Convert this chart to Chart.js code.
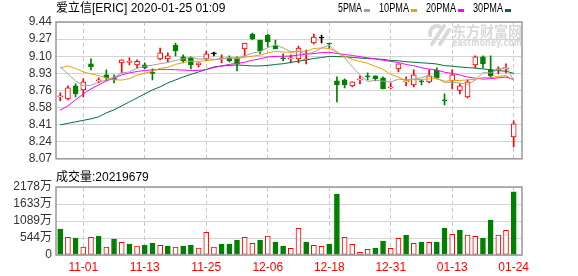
<!DOCTYPE html>
<html>
<head>
<meta charset="utf-8">
<script src="https://cdn.jsdelivr.net/npm/chart.js@4/dist/chart.umd.min.js"></script>
<style>
  body { margin: 0; background: #fff; }
  #wrap { position: relative; width: 578px; height: 276px; }
  #kline { position: absolute; left: 0; top: 0; }
  #vol { position: absolute; left: 0; top: 170px; }
</style>
</head>
<body>
<div id="wrap">
  <canvas id="kline" width="578" height="170"></canvas>
  <canvas id="vol" width="578" height="106"></canvas>
</div>
<script>
//--Data--//
const title = '爱立信[ERIC] 2020-01-25 01:09'
const dates = ['10-29','10-30','10-31','11-01','11-04','11-05','11-06','11-07','11-08','11-11',
  '11-12','11-13','11-14','11-15','11-18','11-19','11-20','11-21','11-22','11-25',
  '11-26','11-27','11-29','12-02','12-03','12-04','12-05','12-06','12-09','12-10',
  '12-11','12-12','12-13','12-16','12-17','12-18','12-19','12-20','12-23','12-24',
  '12-26','12-27','12-30','12-31','01-02','01-03','01-06','01-07','01-08','01-09',
  '01-10','01-13','01-14','01-15','01-16','01-17','01-21','01-22','01-23','01-24']
const labelIdx = [3, 11, 19, 27, 35, 43, 51, 59]

const open = [8.69, 8.67, 8.80, 8.76, 9.02, 8.85, 8.91, 8.88, 9.03, 9.035,
  9.01, 9.01, 8.93, 9.07, 9.07, 9.21, 9.09, 9.08, 9.01, 9.07,
  9.12, 9.07, 9.08, 9.08, 9.17, 9.32, 9.26, 9.31, 9.20, 9.08,
  9.07, 9.07, 9.06, 9.23, 9.28, 9.225, 8.85, 8.86, 8.80, 8.86,
  8.895, 8.90, 8.88, 8.78, 8.97, 8.84, 8.81, 8.845, 8.84, 8.955,
  8.655, 8.85, 8.755, 8.69, 9.01, 9.09, 8.96, 8.96, 8.97, 8.29]
const high = [8.73, 8.80, 8.82, 8.87, 9.07, 8.88, 8.96, 8.91, 9.06, 9.08,
  9.06, 9.03, 8.97, 9.18, 9.13, 9.23, 9.11, 9.09, 9.03, 9.15,
  9.14, 9.11, 9.10, 9.09, 9.23, 9.33, 9.26, 9.32, 9.26, 9.12,
  9.11, 9.20, 9.16, 9.32, 9.31, 9.23, 8.89, 8.87, 8.84, 8.90,
  8.93, 8.90, 8.89, 8.83, 9.02, 8.89, 8.96, 8.86, 8.96, 8.98,
  8.72, 8.96, 8.82, 8.86, 9.10, 9.10, 9.10, 8.99, 9.02, 8.45]
const low = [8.65, 8.66, 8.69, 8.69, 8.96, 8.83, 8.85, 8.83, 8.93, 9.01,
  8.98, 8.97, 8.86, 9.06, 9.04, 9.10, 9.03, 8.97, 8.99, 9.05,
  9.10, 9.03, 9.04, 8.95, 9.10, 9.26, 9.12, 9.19, 9.17, 9.05,
  9.03, 9.03, 9.02, 9.22, 9.23, 9.17, 8.64, 8.78, 8.79, 8.82,
  8.86, 8.85, 8.77, 8.77, 8.94, 8.80, 8.79, 8.81, 8.83, 8.87,
  8.61, 8.77, 8.72, 8.68, 8.98, 8.98, 8.88, 8.92, 8.93, 8.19]
const close = [8.70, 8.78, 8.72, 8.84, 8.99, 8.86, 8.88, 8.86, 9.06, 9.04,
  9.045, 8.98, 8.925, 9.13, 9.10, 9.15, 9.05, 9.01, 9.03, 9.12,
  9.12, 9.08, 9.05, 9.02, 9.23, 9.27, 9.15, 9.24, 9.17, 9.07,
  9.08, 9.18, 9.07, 9.29, 9.28, 9.22, 8.81, 8.81, 8.84, 8.87,
  8.89, 8.87, 8.77, 8.79, 9.02, 8.85, 8.91, 8.84, 8.90, 8.88,
  8.65, 8.91, 8.80, 8.84, 9.09, 9.02, 8.90, 8.97, 8.98, 8.42]

const ma5 = [8.99, 8.92, 8.85, 8.80, 8.806, 8.838, 8.858, 8.886, 8.930, 8.940,
  8.976, 8.996, 9.008, 9.022, 9.034, 9.056, 9.070, 9.088, 9.068, 9.072,
  9.066, 9.072, 9.080, 9.078, 9.100, 9.130, 9.144, 9.182, 9.212, 9.180,
  9.142, 9.148, 9.114, 9.138, 9.180, 9.208, 9.134, 9.082, 8.992, 8.910,
  8.844, 8.856, 8.848, 8.838, 8.868, 8.860, 8.868, 8.882, 8.904, 8.876,
  8.836, 8.836, 8.828, 8.816, 8.858, 8.932, 8.930, 8.964, 8.992, 8.858]
const ma10 = [8.98, 9.00, 8.975, 8.94, 8.92, 8.905, 8.88, 8.862, 8.858, 8.873,
  8.907, 8.927, 8.947, 8.976, 8.987, 9.016, 9.033, 9.048, 9.045, 9.053,
  9.061, 9.071, 9.084, 9.073, 9.086, 9.098, 9.108, 9.131, 9.145, 9.140,
  9.136, 9.146, 9.148, 9.175, 9.180, 9.175, 9.141, 9.098, 9.065, 9.045,
  9.026, 8.995, 8.965, 8.915, 8.889, 8.852, 8.862, 8.865, 8.871, 8.872,
  8.848, 8.852, 8.855, 8.860, 8.867, 8.884, 8.883, 8.896, 8.904, 8.858]
const ma20 = [8.556, 8.60, 8.66, 8.72, 8.77, 8.81, 8.85, 8.88, 8.91, 8.93,
  8.945, 8.955, 8.96, 8.965, 8.965, 8.962, 8.958, 8.955, 8.955, 8.963,
  8.984, 8.999, 9.016, 9.025, 9.037, 9.057, 9.071, 9.090, 9.095, 9.097,
  9.099, 9.109, 9.116, 9.124, 9.133, 9.137, 9.125, 9.115, 9.105, 9.093,
  9.081, 9.071, 9.057, 9.045, 9.035, 9.014, 9.002, 8.982, 8.968, 8.959,
  8.937, 8.924, 8.910, 8.888, 8.878, 8.868, 8.873, 8.881, 8.888, 8.865]
const ma30 = [8.41, 8.425, 8.44, 8.455, 8.47, 8.49, 8.53, 8.56, 8.60, 8.64,
  8.68, 8.72, 8.76, 8.79, 8.83, 8.86, 8.89, 8.915, 8.94, 8.965,
  8.99, 9.0, 9.005, 9.01, 9.005, 9.0, 9.0, 9.005, 9.015, 9.022,
  9.035, 9.048, 9.060, 9.075, 9.084, 9.096, 9.094, 9.092, 9.085, 9.079,
  9.074, 9.071, 9.066, 9.054, 9.052, 9.042, 9.037, 9.031, 9.027, 9.019,
  9.003, 8.998, 8.989, 8.983, 8.979, 8.970, 8.962, 8.953, 8.947, 8.925]

// volume in 万 shares, 1 = closed up (red), 0 = down (green)
const volume = [830, 565, 543, 256, 565, 607, 256, 511, 405, 351,
  288, 320, 383, 309, 288, 256, 288, 320, 224, 724,
  256, 351, 351, 479, 565, 373, 479, 607, 415, 288,
  213, 852, 415, 309, 277, 351, 1949, 565, 341, 85,
  181, 224, 447, 213, 533, 639, 373, 415, 405, 415,
  863, 660, 799, 639, 596, 543, 1118, 639, 788, 2022]
const volUp = [0,1,0,1,1,0,1,0,1,0, 1,0,0,1,0,1,0,0,1,1,
  1,0,0,0,1,1,0,1,0,0, 1,1,0,1,1,0,0,1,1,1,
  1,0,0,1,1,0,1,0,1,0, 0,1,0,1,1,0,0,1,1,0]
const lastVolume = '20219679'

const priceMin = 8.07, priceMax = 9.44
const priceTicks = ['8.07', '8.24', '8.41', '8.58', '8.76', '8.93', '9.10', '9.27', '9.44']
const volMax = 2178
const volTicks = ['0', '544万', '1089万', '1633万', '2178万']
const maNames = ['5PMA', '10PMA', '20PMA', '30PMA']
//--Data--//

const RED = '#ff0000'
const GREEN = '#008000'
const maColors = ['#a0a0a0', '#f0a000', '#ff00ff', '#00703a']
const FONT = "'Liberation Sans', 'Noto Sans CJK SC', sans-serif"
const X_MIN = -0.55, X_MAX = 60.08

function candleColor(i) {
  if (close[i] > open[i]) return RED
  if (close[i] < open[i]) return GREEN
  return '#000'
}

function xAxis(showLabels, height) {
  return {
    type: 'linear', min: X_MIN, max: X_MAX, offset: false,
    grid: { color: '#c8c8c8', offset: false, drawTicks: false },
    border: { display: false, dash: [4, 3] },
    afterBuildTicks: s => { s.ticks = labelIdx.map(v => ({ value: v })) },
    ticks: {
      display: showLabels, autoSkip: false, maxRotation: 0, padding: 5,
      color: RED, font: { family: FONT, size: 12 },
      callback: v => dates[v]
    },
    afterFit: s => { s.height = height }
  }
}

function yAxis(min, max, labels) {
  return {
    min: min, max: max, bounds: 'data', beginAtZero: false,
    grid: { color: '#d4d4d4', drawTicks: false },
    border: { display: false },
    afterBuildTicks: s => {
      s.ticks = labels.map((t, k) => ({ value: min + k * (max - min) / (labels.length - 1) }))
    },
    ticks: {
      autoSkip: false, padding: 4, color: '#333', font: { family: FONT, size: 12 },
      callback: (v, k) => labels[k]
    },
    afterFit: s => { s.width = 56 }
  }
}

function drawFrame(chart) {
  const ctx = chart.ctx
  const a = chart.chartArea
  ctx.save()
  ctx.strokeStyle = '#999'
  ctx.lineWidth = 1.5
  ctx.strokeRect(a.left, a.top, a.right - a.left, a.bottom - a.top)
  ctx.restore()
}

const priceDecor = {
  id: 'priceDecor',
  beforeDatasetsDraw(chart) {
    // eastmoney watermark
    const ctx = chart.ctx
    ctx.save()
    ctx.fillStyle = '#d9d9d9'
    ctx.strokeStyle = '#d9d9d9'
    ctx.lineWidth = 4
    ctx.lineCap = 'round'
    ctx.beginPath()
    ctx.moveTo(444, 26); ctx.lineTo(432, 44)
    ctx.moveTo(449, 30); ctx.lineTo(440, 44)
    ctx.stroke()
    ctx.beginPath()
    ctx.arc(437, 33, 7, Math.PI * 0.9, Math.PI * 1.6)
    ctx.stroke()
    ctx.textBaseline = 'middle'
    ctx.font = "bold 15px 'Noto Sans CJK SC'"
    ctx.fillText('东方财富网', 452, 31, 70)
    ctx.font = "bold 10px 'DejaVu Sans'"
    ctx.fillText('eastmoney.com', 452, 43, 70)
    ctx.restore()
  },
  afterDraw(chart) {
    drawFrame(chart)
    const ctx = chart.ctx
    ctx.save()
    ctx.textBaseline = 'middle'
    ctx.font = '12px ' + FONT
    ctx.fillStyle = '#000'
    ctx.fillText(title, 56, 9)
    let x = 338
    maNames.forEach((name, k) => {
      const w = name.length * 6
      ctx.fillStyle = '#000'
      ctx.fillText(name, x, 9, w)
      ctx.fillStyle = maColors[k]
      ctx.fillRect(x + w + 2, 9, 6, 3)
      x += w + 17
    })
    ctx.restore()
  }
}

const volDecor = {
  id: 'volDecor',
  afterDraw(chart) {
    drawFrame(chart)
    const ctx = chart.ctx
    ctx.save()
    ctx.textBaseline = 'middle'
    ctx.font = '12px ' + FONT
    ctx.fillStyle = '#000'
    ctx.fillText('成交量:' + lastVolume, 56, 8)
    ctx.restore()
  }
}

function maLine(values, color) {
  return {
    type: 'line',
    data: values.map((v, i) => ({ x: i, y: v })),
    borderColor: color, borderWidth: 1, pointRadius: 0, tension: 0, fill: false,
    order: -1
  }
}

new Chart(document.getElementById('kline'), {
  type: 'bar',
  data: {
    datasets: [
      maLine(ma5, maColors[0]),
      maLine(ma10, maColors[1]),
      maLine(ma20, maColors[2]),
      maLine(ma30, maColors[3]),
      {
        // candle bodies
        data: dates.map((d, i) => ({ x: i, y: [open[i], close[i]] })),
        backgroundColor: dates.map((d, i) => close[i] > open[i] ? '#fff' : candleColor(i)),
        borderColor: dates.map((d, i) => candleColor(i)),
        borderWidth: 1, borderSkipped: false, barThickness: 5, minBarLength: 1,
        grouped: false, order: 0
      },
      {
        // wicks
        data: dates.map((d, i) => ({ x: i, y: [low[i], high[i]] })),
        backgroundColor: dates.map((d, i) => candleColor(i)),
        borderWidth: 0, barThickness: 1, grouped: false, order: 1
      }
    ]
  },
  options: {
    responsive: false, animation: false, events: [], devicePixelRatio: 1,
    layout: { padding: { left: 0, right: 56, top: 22, bottom: 5 } },
    plugins: { legend: { display: false }, tooltip: { enabled: false } },
    scales: {
      x: xAxis(false, 0),
      y: yAxis(priceMin, priceMax, priceTicks)
    }
  },
  plugins: [priceDecor]
})

new Chart(document.getElementById('vol'), {
  type: 'bar',
  data: {
    datasets: [{
      data: volume.map((v, i) => ({ x: i, y: v })),
      backgroundColor: volUp.map(u => u ? '#fff' : GREEN),
      borderColor: volUp.map(u => u ? RED : GREEN),
      borderWidth: 1, borderSkipped: false, barThickness: 5
    }]
  },
  options: {
    responsive: false, animation: false, events: [], devicePixelRatio: 1,
    layout: { padding: { left: 0, right: 56, top: 17, bottom: 0 } },
    plugins: { legend: { display: false }, tooltip: { enabled: false } },
    scales: {
      x: xAxis(true, 21),
      y: yAxis(0, volMax, volTicks)
    }
  },
  plugins: [volDecor]
})
</script>
</body>
</html>
